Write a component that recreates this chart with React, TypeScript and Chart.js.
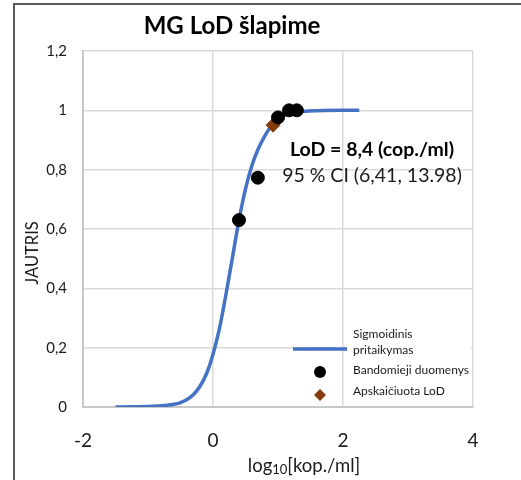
import React, { useEffect, useRef } from 'react';
import { Chart, registerables } from 'chart.js';
Chart.register(...registerables);

const curveX = [-1.5, -1.2, -1.0, -0.8, -0.7, -0.6, -0.5, -0.4, -0.3, -0.2, -0.1, 0.0, 0.1, 0.2, 0.3, 0.4, 0.5, 0.6, 0.7, 0.8, 0.9, 1.0, 1.1, 1.2, 1.4, 1.6, 2.0, 2.25];
const curveY = [0.0, 0.001, 0.002, 0.004, 0.006, 0.009, 0.015, 0.025, 0.042, 0.07, 0.112, 0.178, 0.265, 0.38, 0.505, 0.63, 0.735, 0.815, 0.872, 0.915, 0.948, 0.97, 0.983, 0.991, 0.997, 0.999, 1.0, 1.0];

const dataX = [0.40, 0.69, 1.0, 1.17, 1.29];
const dataY = [0.63, 0.773, 0.976, 1.0, 1.0];

const lodX = [0.924];
const lodY = [0.95];

const xTickLabels = ['-2', '0', '2', '4'];
const yTickLabels = ['0', '0,2', '0,4', '0,6', '0,8', '1', '1,2'];

const seriesLabels = ['Sigmoidinis pritaikymas', 'Bandomieji duomenys', 'Apskaičiuota LoD'];
const titleText = 'MG LoD šlapime';
const yTitle = 'JAUTRIS';
const xTitleParts = ['log', '10', '[kop./ml]'];
const noteLines = ['LoD = 8,4 (cop./ml)', '95 % CI (6,41, 13.98)'];

const FONT = 'Lato, "Open Sans", sans-serif';
const BLUE = '#4472C4';
const BROWN = '#843C0C';

const decorPlugin = {
  id: 'decor',
  beforeDraw(chart: any) {
    const ctx = chart.ctx;
    ctx.save();
    ctx.fillStyle = '#ffffff';
    ctx.fillRect(0, 0, chart.width, chart.height);
    ctx.strokeStyle = '#595959';
    ctx.lineWidth = 2;
    ctx.beginPath();
    ctx.moveTo(14, chart.height);
    ctx.lineTo(14, 4);
    ctx.lineTo(chart.width, 4);
    ctx.stroke();
    ctx.restore();
  },
  afterDatasetsDraw(chart: any) {
    const ctx = chart.ctx;
    const a = chart.chartArea;
    ctx.save();
    // title
    ctx.fillStyle = '#000';
    ctx.textAlign = 'center';
    ctx.textBaseline = 'middle';
    ctx.font = `bold 24px ${FONT}`;
    ctx.fillText(titleText, a.left + 149, 26);

    // y title
    ctx.save();
    ctx.translate(33, 253);
    ctx.rotate(-Math.PI / 2);
    ctx.font = `16.5px ${FONT}`;
    ctx.fillStyle = '#1a1a1a';
    ctx.fillText(yTitle, 0, 0);
    ctx.restore();

    // x title with subscript
    ctx.fillStyle = '#1a1a1a';
    ctx.textBaseline = 'alphabetic';
    ctx.textAlign = 'left';
    const bigF = `18.5px ${FONT}`;
    const smallF = `13px ${FONT}`;
    ctx.font = bigF;
    const w0 = ctx.measureText(xTitleParts[0]).width;
    const w2 = ctx.measureText(xTitleParts[2]).width;
    ctx.font = smallF;
    const w1 = ctx.measureText(xTitleParts[1]).width;
    const total = w0 + w1 + w2;
    let x = a.left + 221 - total / 2;
    const base = 472;
    ctx.font = bigF;
    ctx.fillText(xTitleParts[0], x, base);
    x += w0;
    ctx.font = smallF;
    ctx.fillText(xTitleParts[1], x, base + 2);
    x += w1;
    ctx.font = bigF;
    ctx.fillText(xTitleParts[2], x, base);

    // note
    ctx.textAlign = 'center';
    ctx.textBaseline = 'middle';
    ctx.fillStyle = '#000';
    ctx.font = `bold 19.5px ${FONT}`;
    ctx.fillText(noteLines[0], a.left + 289, 150);
    ctx.font = `19.5px ${FONT}`;
    ctx.fillStyle = '#1a1a1a';
    ctx.fillText(noteLines[1], a.left + 289, 176);

    // legend
    const r = a.right;
    const b = a.bottom;
    ctx.fillStyle = '#ffffff';
    ctx.fillRect(r - 127, b - 86, 125, 84);
    ctx.strokeStyle = BLUE;
    ctx.lineWidth = 3.5;
    ctx.beginPath();
    ctx.moveTo(r - 180, b - 58);
    ctx.lineTo(r - 126, b - 58);
    ctx.stroke();
    ctx.fillStyle = '#000';
    ctx.beginPath();
    ctx.arc(r - 153, b - 35, 6, 0, Math.PI * 2);
    ctx.fill();
    ctx.fillStyle = BROWN;
    ctx.beginPath();
    ctx.moveTo(r - 153, b - 18);
    ctx.lineTo(r - 147, b - 12);
    ctx.lineTo(r - 153, b - 6);
    ctx.lineTo(r - 159, b - 12);
    ctx.closePath();
    ctx.fill();

    ctx.fillStyle = '#1a1a1a';
    ctx.textAlign = 'left';
    ctx.font = `12px ${FONT}`;
    const l0 = chart.data.datasets[0].label.split(' ');
    ctx.fillText(l0[0], r - 120, b - 73);
    ctx.fillText(l0[1], r - 120, b - 57);
    ctx.fillText(chart.data.datasets[1].label, r - 120, b - 37);
    ctx.fillText(chart.data.datasets[2].label, r - 120, b - 16);
    ctx.restore();
  },
};

export default function App() {
  const ref = useRef<HTMLCanvasElement>(null);
  useEffect(() => {
    if (!ref.current) return;
    const chart = new Chart(ref.current, {
      type: 'scatter',
      data: {
        datasets: [
          {
            label: seriesLabels[0],
            type: 'line',
            data: curveX.map((x, i) => ({ x, y: curveY[i] })),
            borderColor: BLUE,
            borderWidth: 3.5,
            pointRadius: 0,
            fill: false,
            cubicInterpolationMode: 'monotone',
            order: 3,
          } as any,
          {
            label: seriesLabels[1],
            data: dataX.map((x, i) => ({ x, y: dataY[i] })),
            backgroundColor: '#000',
            borderColor: '#000',
            pointRadius: 6.5,
            order: 1,
          },
          {
            label: seriesLabels[2],
            data: lodX.map((x, i) => ({ x, y: lodY[i] })),
            backgroundColor: BROWN,
            borderColor: BROWN,
            pointStyle: 'rectRot',
            pointRadius: 7,
            order: 2,
          },
        ],
      },
      options: {
        animation: false,
        responsive: false,
        layout: { padding: { top: 51, right: 48, left: 0, bottom: 0 } },
        plugins: { legend: { display: false }, tooltip: { enabled: false }, title: { display: false } },
        scales: {
          x: {
            type: 'linear',
            min: -2,
            max: 4,
            ticks: {
              stepSize: 2,
              padding: 22,
              color: '#1a1a1a',
              font: { family: FONT, size: 19 },
              callback: (v: any, i: number) => xTickLabels[i],
            },
            grid: { color: '#d9d9d9', lineWidth: 1.5, drawTicks: false },
            border: { color: '#c8c8c8', width: 2 },
            afterFit: (s: any) => { s.height = 73; },
          },
          y: {
            min: 0,
            max: 1.2,
            ticks: {
              stepSize: 0.2,
              padding: 16,
              color: '#1a1a1a',
              font: { family: FONT, size: 15 },
              callback: (v: any, i: number) => yTickLabels[i],
            },
            grid: { color: '#d9d9d9', lineWidth: 1.5, drawTicks: false },
            border: { color: '#c8c8c8', width: 2 },
            afterFit: (s: any) => { s.width = 83; },
          },
        },
      },
      plugins: [decorPlugin],
    });
    return () => chart.destroy();
  }, []);
  return (
    <div style={{ position: 'absolute', left: 0, top: 0, width: 521, height: 480 }}>
      <canvas ref={ref} width={521} height={480} />
    </div>
  );
}
